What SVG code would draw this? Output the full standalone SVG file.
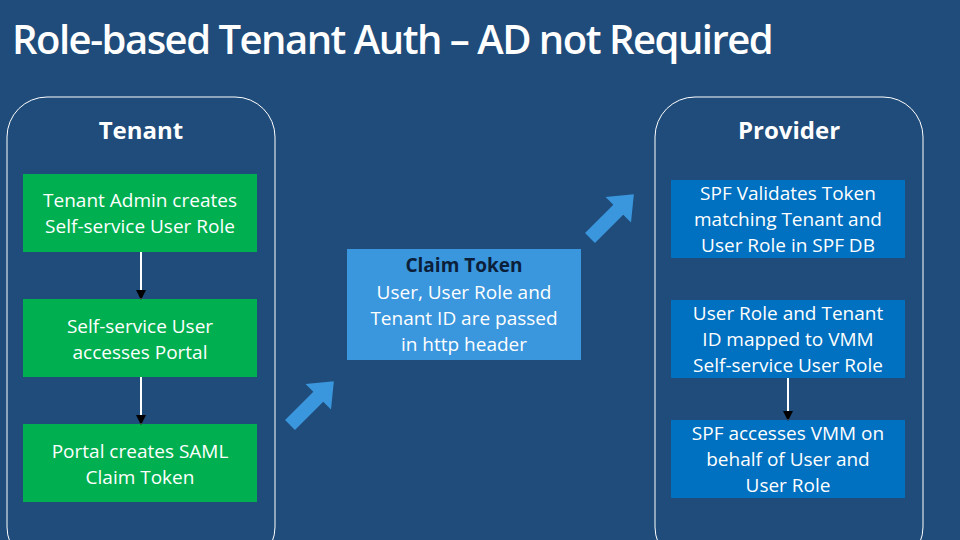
<svg xmlns="http://www.w3.org/2000/svg" width="960" height="540" viewBox="0 0 960 540">
<defs>
<style>
.t{font-family:"Open Sans","Liberation Sans",sans-serif;fill:#fff;text-anchor:middle;font-size:19px}
.h{font-family:"Open Sans","Liberation Sans",sans-serif;fill:#fff;text-anchor:middle;font-size:24px;font-weight:bold}
.g{fill:#00B050}.b{fill:#0070C0}
.c{stroke:#fff;stroke-width:2;marker-end:url(#ah)}
.ba{fill:#3A96DD}
</style>
<marker id="ah" viewBox="0 0 10 10" refX="9" refY="5" markerWidth="5" markerHeight="5" orient="auto"><path d="M0,0L10,5L0,10z" fill="#000"/></marker>
</defs>
<rect width="960" height="540" fill="#1F4C7A"/>
<text x="12" y="54" font-family="'Open Sans','Liberation Sans',sans-serif" font-size="40" font-weight="600" fill="#fff" letter-spacing="-1.5">Role-based Tenant Auth – AD not Required</text>
<rect x="7" y="97" width="268" height="470" rx="40" fill="none" stroke="#fff" stroke-width="1"/>
<rect x="655" y="97" width="268" height="470" rx="40" fill="none" stroke="#fff" stroke-width="1"/>
<text class="h" x="141" y="139">Tenant</text>
<text class="h" x="789" y="139">Provider</text>
<g id="n1"><rect class="g" x="23" y="174" width="234" height="78"/><text class="t" x="140" y="207">Tenant Admin creates</text><text class="t" x="140" y="233">Self-service User Role</text></g>
<g id="n2"><rect class="g" x="23" y="299" width="234" height="78"/><text class="t" x="140" y="333">Self-service User</text><text class="t" x="140" y="359">accesses Portal</text></g>
<g id="n3"><rect class="g" x="23" y="424" width="234" height="78"/><text class="t" x="140" y="458">Portal creates SAML</text><text class="t" x="140" y="484">Claim Token</text></g>
<g id="n4"><rect class="ba" x="347" y="249" width="234" height="111"/><text class="t" x="464" y="272" font-weight="bold" style="fill:#0B1F3A">Claim Token</text><text class="t" x="464" y="299">User, User Role and</text><text class="t" x="464" y="325">Tenant ID are passed</text><text class="t" x="464" y="351">in http header</text></g>
<g id="n5"><rect class="b" x="671" y="180" width="234" height="78"/><text class="t" x="788" y="200">SPF Validates Token</text><text class="t" x="788" y="226">matching Tenant and</text><text class="t" x="788" y="252">User Role in SPF DB</text></g>
<g id="n6"><rect class="b" x="671" y="300" width="234" height="78"/><text class="t" x="788" y="320">User Role and Tenant</text><text class="t" x="788" y="346">ID mapped to VMM</text><text class="t" x="788" y="372">Self-service User Role</text></g>
<g id="n7"><rect class="b" x="671" y="420" width="234" height="78"/><text class="t" x="788" y="440">SPF accesses VMM on</text><text class="t" x="788" y="466">behalf of User and</text><text class="t" x="788" y="492">User Role</text></g>
<g id="connectors">
<line class="c" x1="141" y1="252" x2="141" y2="299"/>
<line class="c" x1="141" y1="377" x2="141" y2="424"/>
<line class="c" x1="788" y1="378" x2="788" y2="420"/>
<polygon class="ba" points="0,-7 40,-7 40,-18 62,0 40,18 40,7 0,7" transform="translate(290,425) rotate(-45)"/>
<polygon class="ba" points="0,-7 40,-7 40,-18 62,0 40,18 40,7 0,7" transform="translate(590,238) rotate(-45)"/>
</g>
</svg>
